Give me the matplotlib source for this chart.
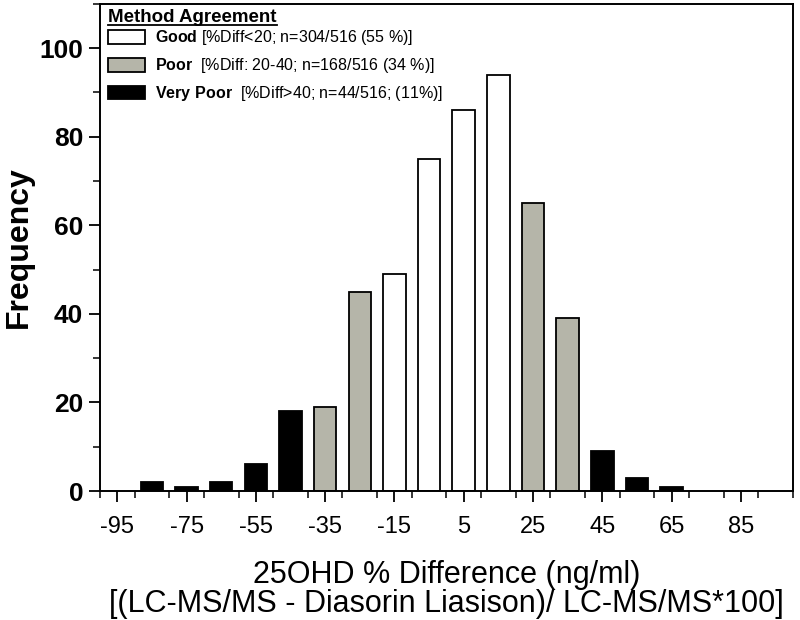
import matplotlib
matplotlib.use("Agg")
import matplotlib.pyplot as plt
from matplotlib.patches import Patch
from matplotlib.lines import Line2D
from matplotlib.ticker import MultipleLocator

plt.rcParams["font.family"] = ["Liberation Sans", "DejaVu Sans"]
plt.rcParams["mathtext.fontset"] = "custom"
plt.rcParams["mathtext.bf"] = "Liberation Sans:bold"
plt.rcParams["mathtext.rm"] = "Liberation Sans"
plt.rcParams["axes.unicode_minus"] = False
plt.rcParams["legend.title_fontsize"] = 13.5

# histogram of % difference, bins of width 10 centred on these values
bin_centers = [-85, -75, -65, -55, -45, -35, -25, -15, -5, 5, 15, 25, 35, 45, 55, 65]
frequency = [2, 1, 2, 6, 18, 19, 45, 49, 75, 86, 94, 65, 39, 9, 3, 1]
agreement = ["vpoor", "vpoor", "vpoor", "vpoor", "vpoor", "poor", "poor",
             "good", "good", "good", "good", "poor", "poor",
             "vpoor", "vpoor", "vpoor"]

x_ticks = [-95, -75, -55, -35, -15, 5, 25, 45, 65, 85]
y_ticks = [0, 20, 40, 60, 80, 100]

colors = {"good": "white", "poor": "#b5b5a9", "vpoor": "black"}
legend_labels = {
    "good": r"$\bf{Good}$ [%Diff<20; n=304/516 (55 %)]",
    "poor": r"$\bf{Poor}$  [%Diff: 20-40; n=168/516 (34 %)]",
    "vpoor": r"$\bf{Very\ Poor}$  [%Diff>40; n=44/516; (11%)]",
}

fig = plt.figure(figsize=(8, 6.2), dpi=100)
ax = fig.add_axes([0.125, 0.208, 0.866, 0.786])

ax.bar(bin_centers, frequency, width=6.5,
       color=[colors[a] for a in agreement], edgecolor="black", linewidth=1.3)

ax.set_xlim(-100, 100)
ax.set_ylim(0, 110)
ax.set_xticks(x_ticks)
ax.set_yticks(y_ticks)
ax.xaxis.set_minor_locator(MultipleLocator(10))
ax.yaxis.set_minor_locator(MultipleLocator(10))
ax.tick_params(which="major", direction="out", length=8, width=1.3)
ax.tick_params(which="minor", direction="out", length=5, width=1.1)
ax.tick_params(axis="x", labelsize=17, pad=10)
ax.tick_params(axis="y", labelsize=19, pad=4)
for lab in ax.get_yticklabels():
    lab.set_fontweight("bold")
for s in ax.spines.values():
    s.set_linewidth(1.4)

ax.set_ylabel("Frequency", fontsize=23, fontweight="bold", labelpad=4)
ax.set_xlabel("25OHD % Difference (ng/ml)\n[(LC-MS/MS - Diasorin Liasison)/ LC-MS/MS*100]",
              fontsize=22, linespacing=0.95, labelpad=16)

handles = [Patch(facecolor=colors[k], edgecolor="black", linewidth=1.3) for k in ["good", "poor", "vpoor"]]
leg = ax.legend(handles, [legend_labels[k] for k in ["good", "poor", "vpoor"]],
                loc="upper left", bbox_to_anchor=(0.012, 0.99), frameon=False,
                fontsize=11.5, handlelength=2.3, handleheight=0.95,
                handletextpad=0.6, labelspacing=0.55, borderaxespad=0,
                borderpad=0, title="Method Agreement",
                title_fontproperties={"weight": "bold", "size": 13.5},
                alignment="left")
# pull the entries a little closer to the title
leg._legend_box.sep = 2

fig.canvas.draw()
bb = leg.get_title().get_window_extent()
inv = fig.transFigure.inverted()
(x0, y0), (x1, _) = inv.transform([(bb.x0, bb.y0 + 1), (bb.x1, bb.y0 + 1)])
fig.add_artist(Line2D([x0, x1], [y0, y0], color="black", linewidth=1.3))

fig.savefig("out.png", dpi=100)
